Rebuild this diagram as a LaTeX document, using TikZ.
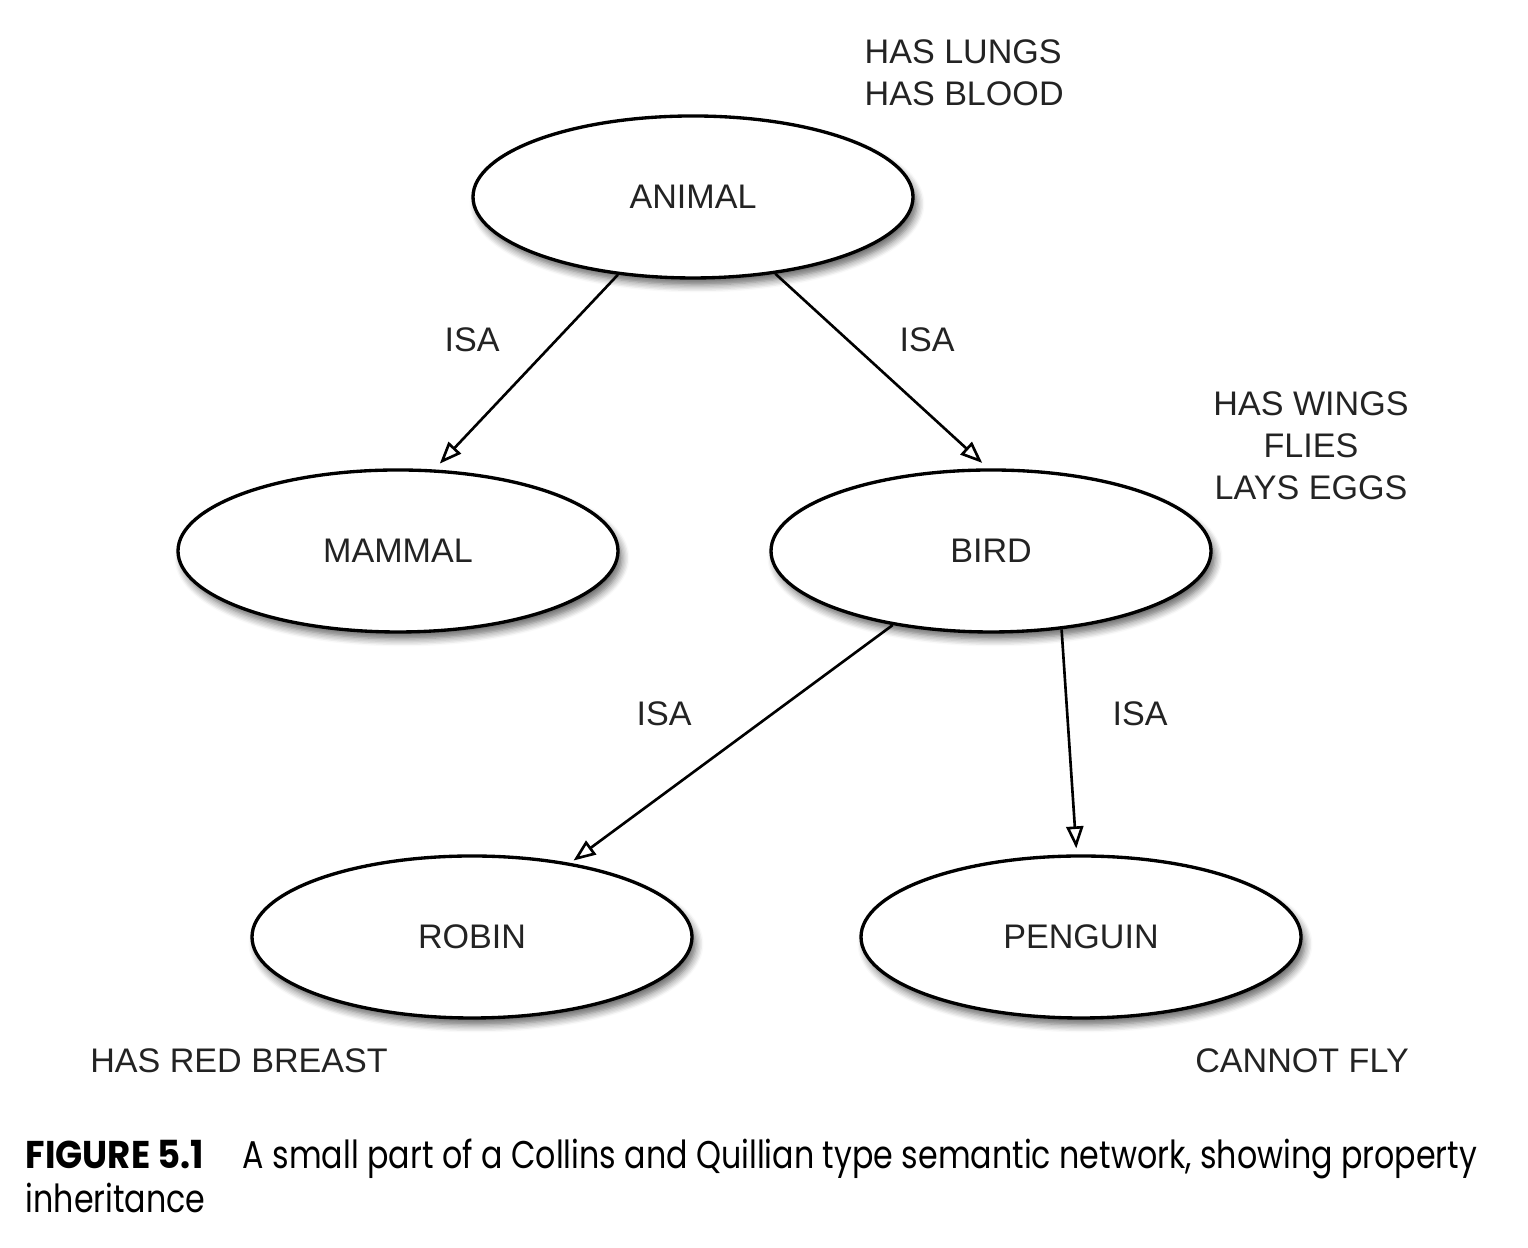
\documentclass[tikz,border=0pt]{standalone}
\usepackage{fontspec}
\setmainfont{Liberation Sans}
\newfontfamily\capfont[FakeStretch=0.82]{Poppins}
\newfontfamily\capboldfont[FakeStretch=0.92]{Poppins Bold}
\usetikzlibrary{positioning,arrows.meta,shapes.geometric,shadows.blur}
\definecolor{textC}{RGB}{35,35,35}
\tikzset{
	concept/.style={draw, ellipse, line width=0.95pt, fill=white,
		minimum width=4.4cm, minimum height=1.62cm,
		font=\fontsize{9.7}{11.95}\selectfont, text=textC,
		blur shadow={shadow xshift=0.04cm, shadow yshift=-0.07cm,
			shadow blur steps=6, shadow opacity=60}},
	prop/.style={align=center, font=\fontsize{9.7}{11.95}\selectfont, text=textC},
	isalabel/.style={font=\fontsize{9.7}{11.95}\selectfont, text=textC},
	isa/.style={-{Triangle[open,length=0.22cm,width=0.17cm]}, line width=0.75pt},
	caption/.style={anchor=base west, align=left, inner sep=0pt,
		font=\capfont\fontsize{11.0}{12.8}\selectfont},
}

\begin{document}
\begin{tikzpicture}
		\useasboundingbox (0,0) rectangle (15.28,12.48);
		
		% =============== CONCEPT NODES ===============
		\node[concept] (animal)  at (6.93,10.51) {ANIMAL};
		\node[concept] (mammal)  at (3.98,6.97)  {MAMMAL};
		\node[concept] (bird)    at (9.91,6.97)  {BIRD};
		\node[concept] (robin)   at (4.72,3.11)  {ROBIN};
		\node[concept] (penguin) at (10.81,3.11) {PENGUIN};
		
		% =============== ISA LINKS ===============
		\draw[isa, shorten >=0.08cm] (animal.226) -- (mammal.66);
		\draw[isa, shorten >=0.08cm] (animal.317) -- (bird.92);
		\draw[isa, shorten >=0.04cm] (bird.217) -- (robin.37);
		\draw[isa, shorten >=0.06cm] (bird.312) -- (penguin.93);
		
		\node[isalabel] (isa1) at (4.72,9.08)  {ISA};
		\node[isalabel] (isa2) at (9.27,9.08)  {ISA};
		\node[isalabel] (isa3) at (6.64,5.34)  {ISA};
		\node[isalabel] (isa4) at (11.40,5.34) {ISA};
		
		% =============== PROPERTIES ===============
		\node[prop, align=left, anchor=north west, inner sep=0pt] (pAnimal) at (8.64,12.09)
		{HAS LUNGS\\HAS BLOOD};
		\node[prop] (pBird) at (13.11,8.02) {HAS WINGS\\FLIES\\LAYS EGGS};
		\node[prop] (pRobin) at (2.39,1.87) {HAS RED BREAST};
		\node[prop] (pPenguin) at (13.02,1.87) {CANNOT FLY};
		
		% =============== CAPTION ===============
		\node[caption] (cap) at (0.25,0.35)
		{{\capboldfont FIGURE 5.1}\hspace{1.0em}A small part of a Collins and Quillian type semantic network, showing property\\inheritance};
		
	\end{tikzpicture}
\end{document}
